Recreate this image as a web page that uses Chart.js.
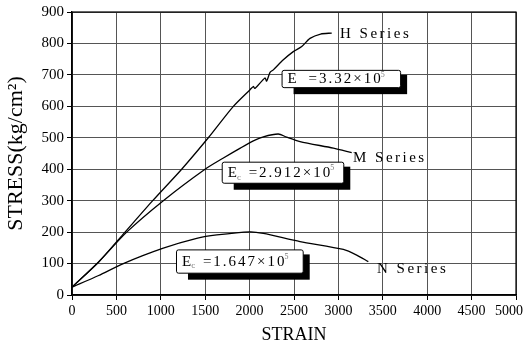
<!DOCTYPE html>
<html>
<head>
<meta charset="utf-8">
<script src="https://cdn.jsdelivr.net/npm/chart.js@4"></script>
<style>
  html, body { margin: 0; padding: 0; background: #fff; }
</style>
</head>
<body>
<canvas id="stressChart" width="525" height="355"></canvas>
<script>
// values (strain, stress in kg/cm2)
const hStrain = [0, 300, 597, 909, 1235, 1535, 1817, 2005, 2042, 2060, 2173, 2192, 2230, 2267, 2380, 2492, 2587, 2680, 2800, 2925]
const hStress = [25, 105, 200, 300, 400, 500, 600, 653, 663, 657, 690, 680, 708, 716, 748, 774, 790, 816, 830, 833]

const mStrain = [0, 300, 616, 1028, 1498, 1700, 1900, 2042, 2155, 2323, 2417, 2568, 2943, 3150]
const mStress = [25, 105, 200, 300, 400, 435, 468, 490, 503, 512, 502, 488, 467, 453]

const nStrain = [0, 300, 578, 1028, 1404, 1630, 2005, 2155, 2568, 3056, 3206, 3337]
const nStress = [25, 62, 100, 149, 180, 191, 201, 196, 170, 145, 127, 106]

const seriesNames = ['H Series', 'M Series', 'N Series']
const modulusTexts = ['3.32×10', '2.912×10', '1.647×10']
const modulusSubs = ['', 'c', 'c']

function toPoints (xs, ys) {
  return xs.map((x, i) => ({ x, y: ys[i] }))
}

const FONT = '"Liberation Serif", "Times New Roman", serif'
Chart.defaults.font.family = FONT
Chart.defaults.color = '#000'

// where the hand-placed labels sit (data units)
const seriesLabelAt = [
  { x: 3018, y: 830 },
  { x: 3164, y: 435 },
  { x: 3435, y: 83 }
]
const boxAt = [
  { x0: 2360, x1: 3695, y0: 716, y1: 661 },
  { x0: 1686, x1: 3055, y0: 424, y1: 357 },
  { x0: 1171, x1: 2598, y0: 145, y1: 71 }
]

const notesPlugin = {
  id: 'notes',
  beforeDraw (chart) {
    // the last strain label sits a bit inside the frame in the original
    const items = chart.scales.x.getLabelItems()
    const last = items[items.length - 1]
    if (last && !last.shifted) {
      last.options.translation[0] -= 7
      last.shifted = true
    }
  },
  afterDraw (chart) {
    const { ctx, chartArea, scales: { x, y } } = chart

    ctx.save()
    // solid frame on top and right
    ctx.strokeStyle = '#000'
    ctx.lineWidth = 1.2
    ctx.strokeRect(chartArea.left, chartArea.top, chartArea.right - chartArea.left, chartArea.bottom - chartArea.top)

    ctx.fillStyle = '#000'
    ctx.textBaseline = 'middle'
    ctx.letterSpacing = '2.5px'
    ctx.font = '15px ' + FONT
    seriesNames.forEach((name, i) => {
      const p = seriesLabelAt[i]
      ctx.fillText(name, x.getPixelForValue(p.x), y.getPixelForValue(p.y))
    })

    boxAt.forEach((b, i) => {
      const left = x.getPixelForValue(b.x0)
      const right = x.getPixelForValue(b.x1)
      const top = y.getPixelForValue(b.y0)
      const bottom = y.getPixelForValue(b.y1)
      const w = right - left
      const h = bottom - top

      ctx.fillStyle = '#000'
      ctx.fillRect(left + 12, top + 5, w - 5, h + 2)

      ctx.fillStyle = '#fff'
      ctx.strokeStyle = '#000'
      ctx.lineWidth = 1
      ctx.beginPath()
      ctx.roundRect(left + 0.5, top + 0.5, w, h, 2)
      ctx.fill()
      ctx.stroke()

      ctx.fillStyle = '#000'
      const mid = top + h / 2 + 1
      let cx = left + 6
      ctx.letterSpacing = '2px'
      ctx.font = '15px ' + FONT
      ctx.fillText('E', cx, mid)
      cx += ctx.measureText('E').width
      ctx.font = '9px ' + FONT
      ctx.fillStyle = '#777'
      ctx.fillText(modulusSubs[i], cx - 2, mid + 4)
      ctx.fillStyle = '#000'
      cx += 4
      ctx.font = '15px ' + FONT
      const rest = ' =' + modulusTexts[i]
      ctx.fillText(rest, cx, mid)
      cx += ctx.measureText(rest).width - 2
      ctx.font = '8px ' + FONT
      ctx.fillStyle = '#777'
      ctx.fillText('5', cx, mid - 5)
    })
    ctx.restore()
  }
}

const ctx = document.getElementById('stressChart').getContext('2d')

const lineStyle = {
  borderColor: '#000',
  borderWidth: 1.3,
  pointRadius: 0,
  fill: false,
  tension: 0.25
}

new Chart(ctx, {
  type: 'line',
  data: {
    datasets: [
      { label: seriesNames[0], data: toPoints(hStrain, hStress), ...lineStyle },
      { label: seriesNames[1], data: toPoints(mStrain, mStress), ...lineStyle },
      { label: seriesNames[2], data: toPoints(nStrain, nStress), ...lineStyle }
    ]
  },
  options: {
    responsive: false,
    animation: false,
    layout: { padding: { top: 12, right: 9, left: 0, bottom: 0 } },
    plugins: {
      legend: { display: false },
      tooltip: { enabled: false }
    },
    scales: {
      x: {
        type: 'linear',
        min: 0,
        max: 5000,
        ticks: { stepSize: 500, padding: 3, font: { size: 14 }, maxRotation: 0, callback: (v) => String(v) },
        grid: { display: true, drawOnChartArea: true, drawTicks: true, color: '#555', lineWidth: 1, tickLength: 5, tickColor: '#000' },
        border: { color: '#000', width: 1.3 },
        title: { display: true, text: 'STRAIN', font: { size: 18 }, padding: { top: 0, bottom: 9 } },
        afterFit (scale) {
          scale.height = 60
          scale.paddingLeft = 0
          scale.paddingRight = 0
        }
      },
      y: {
        type: 'linear',
        min: 0,
        max: 900,
        ticks: { stepSize: 100, padding: 3, font: { size: 15 }, callback: (v) => String(v) },
        grid: { display: true, drawOnChartArea: true, drawTicks: true, color: '#555', lineWidth: 1, tickLength: 5, tickColor: '#000' },
        border: { color: '#000', width: 1.3 },
        title: { display: true, text: 'STRESS(kg/cm²)', font: { size: 22 }, padding: { top: 3, bottom: 0 } },
        afterFit (scale) {
          scale.width = 72
        }
      }
    }
  },
  plugins: [notesPlugin]
})
</script>
</body>
</html>
